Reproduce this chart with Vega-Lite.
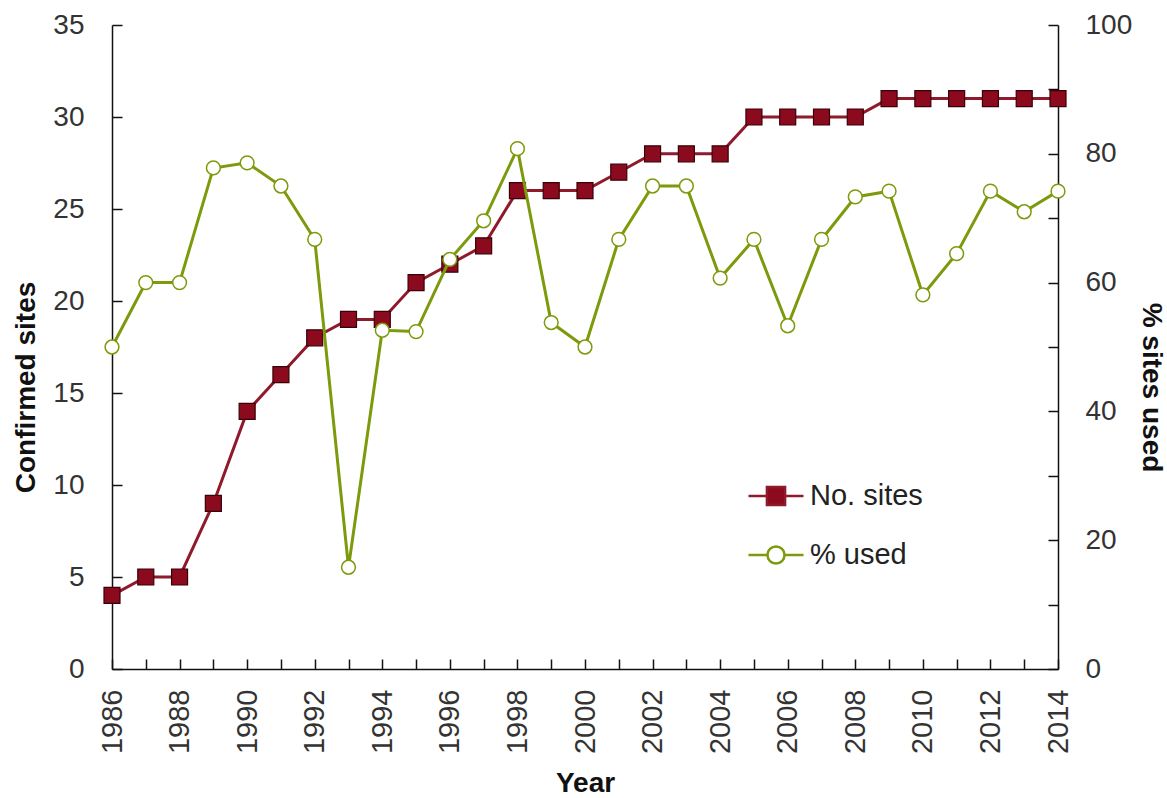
{
  "$schema": "https://vega.github.io/schema/vega-lite/v6.json",
  "autosize": "none",
  "width": 946,
  "height": 644,
  "padding": {"left": 112, "top": 25, "right": 109, "bottom": 129},
  "background": "white",
  "config": {
    "view": {"stroke": null},
    "font": "Liberation Sans",
    "axis": {
      "grid": false,
      "domainColor": "#111",
      "domainWidth": 1.5,
      "tickColor": "#111",
      "tickWidth": 1.5,
      "tickSize": -10,
      "labelFont": "Liberation Sans",
      "labelFontSize": 28,
      "labelColor": "#333",
      "titleFont": "Liberation Sans",
      "titleFontSize": 28,
      "titleFontWeight": "bold",
      "titleColor": "#111"
    }
  },
  "data": {
    "values": [
      {"year": 1986, "sites": 4, "pct": 50.0},
      {"year": 1987, "sites": 5, "pct": 60.0},
      {"year": 1988, "sites": 5, "pct": 60.0},
      {"year": 1989, "sites": 9, "pct": 77.8},
      {"year": 1990, "sites": 14, "pct": 78.6},
      {"year": 1991, "sites": 16, "pct": 75.0},
      {"year": 1992, "sites": 18, "pct": 66.7},
      {"year": 1993, "sites": 19, "pct": 15.8},
      {"year": 1994, "sites": 19, "pct": 52.6},
      {"year": 1995, "sites": 21, "pct": 52.4},
      {"year": 1996, "sites": 22, "pct": 63.6},
      {"year": 1997, "sites": 23, "pct": 69.6},
      {"year": 1998, "sites": 26, "pct": 80.8},
      {"year": 1999, "sites": 26, "pct": 53.8},
      {"year": 2000, "sites": 26, "pct": 50.0},
      {"year": 2001, "sites": 27, "pct": 66.7},
      {"year": 2002, "sites": 28, "pct": 75.0},
      {"year": 2003, "sites": 28, "pct": 75.0},
      {"year": 2004, "sites": 28, "pct": 60.7},
      {"year": 2005, "sites": 30, "pct": 66.7},
      {"year": 2006, "sites": 30, "pct": 53.3},
      {"year": 2007, "sites": 30, "pct": 66.7},
      {"year": 2008, "sites": 30, "pct": 73.3},
      {"year": 2009, "sites": 31, "pct": 74.2},
      {"year": 2010, "sites": 31, "pct": 58.1},
      {"year": 2011, "sites": 31, "pct": 64.5},
      {"year": 2012, "sites": 31, "pct": 74.2},
      {"year": 2013, "sites": 31, "pct": 71.0},
      {"year": 2014, "sites": 31, "pct": 74.2}
    ]
  },
  "encoding": {
    "x": {
      "field": "year",
      "type": "quantitative",
      "scale": {"domain": [1986, 2014], "nice": false, "zero": false},
      "axis": {
        "title": "Year",
        "values": [1986,1987,1988,1989,1990,1991,1992,1993,1994,1995,1996,1997,1998,1999,2000,2001,2002,2003,2004,2005,2006,2007,2008,2009,2010,2011,2012,2013,2014],
        "labelExpr": "datum.value % 2 == 0 ? format(datum.value, 'd') : ''",
        "labelAngle": 270,
        "labelFontSize": 29,
        "labelPadding": 30,
        "labelFlush": false,
        "labelOverlap": false,
        "titleY": 114,
        "titleBaseline": "middle"
      }
    }
  },
  "layer": [
    {
      "encoding": {
        "y": {
          "field": "sites",
          "type": "quantitative",
          "scale": {"domain": [0, 35], "nice": false},
          "axis": {
            "orient": "left",
            "title": "Confirmed sites",
            "values": [0, 5, 10, 15, 20, 25, 30, 35],
            "labelPadding": 38,
            "titleX": -86,
            "titleY": 362,
            "titleBaseline": "middle",
            "titleAngle": 270
          }
        }
      },
      "layer": [
        {
          "mark": {"type": "line", "strokeWidth": 3, "clip": false},
          "encoding": {
            "color": {
              "datum": "No. sites",
              "type": "nominal",
              "scale": {"domain": ["No. sites", "% used"], "range": ["#8E1A2C", "#7C9A0C"]},
              "legend": {
                "title": null,
                "orient": "none",
                "legendX": 635,
                "legendY": 442,
                "padding": 0,
                "symbolSize": 3025,
                "symbolStrokeWidth": 2.5,
                "rowPadding": 15,
                "labelOffset": 5,
                "labelFontSize": 29,
                "labelFont": "Liberation Sans",
                "labelColor": "#222",
                "labelLimit": 300,
                "encode": {
                  "symbols": {
                    "update": {
                      "shape": {"signal": "datum.value === 'No. sites' ? 'M-1,0L-0.33,0M0.33,0L1,0M-0.33,-0.33L0.33,-0.33L0.33,0.33L-0.33,0.33Z' : 'M-1,0L-0.31,0M0.31,0L1,0M-0.31,0A0.31,0.31,0,1,0,0.31,0A0.31,0.31,0,1,0,-0.31,0Z'"},
                      "fill": {"signal": "datum.value === 'No. sites' ? '#8C0A1E' : '#ffffff'"},
                      "stroke": {"signal": "datum.value === 'No. sites' ? '#8E1A2C' : '#7C9A0C'"},
                      "fillOpacity": {"value": 1},
                      "opacity": {"value": 1}
                    }
                  }
                }
              }
            }
          }
        },
        {
          "mark": {"type": "point", "shape": "square", "size": 256, "filled": true, "fill": "#8C0A1E", "stroke": "#3A0008", "strokeWidth": 1.2, "opacity": 1, "clip": false}
        }
      ]
    },
    {
      "encoding": {
        "y": {
          "field": "pct",
          "type": "quantitative",
          "scale": {"domain": [0, 100], "nice": false},
          "axis": {
            "orient": "right",
            "title": "% sites used",
            "values": [0, 10, 20, 30, 40, 50, 60, 70, 80, 90, 100],
            "labelExpr": "datum.value % 20 == 0 ? datum.label : ''",
            "labelPadding": 37,
            "titleX": 92,
            "titleY": 362,
            "titleBaseline": "middle",
            "titleAngle": 90
          }
        }
      },
      "layer": [
        {
          "mark": {"type": "line", "strokeWidth": 3, "clip": false},
          "encoding": {
            "color": {"datum": "% used", "type": "nominal"}
          }
        },
        {
          "mark": {"type": "point", "shape": "circle", "size": 190, "filled": true, "fill": "#ffffff", "stroke": "#7C9A0C", "strokeWidth": 1.5, "opacity": 1, "clip": false}
        }
      ]
    }
  ],
  "resolve": {"scale": {"y": "independent"}}
}
